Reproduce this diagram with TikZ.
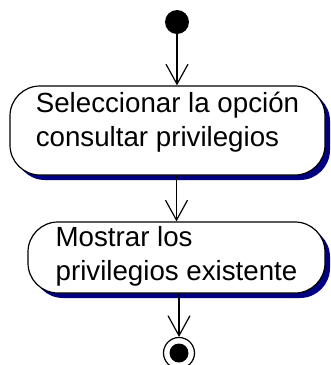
\documentclass[tikz,border=0pt]{standalone}
\usepackage{fontspec}
\setmainfont{Liberation Sans}
\usetikzlibrary{arrows.meta,shadows}
\definecolor{shd}{HTML}{000080}
\tikzset{
  act/.style={draw=black, line width=1.2pt, fill=white, rounded corners=30pt,
    align=left, inner sep=0pt, font=\fontsize{27.7}{34}\selectfont,
    drop shadow={shadow xshift=5pt, shadow yshift=-5pt, fill=shd, opacity=1}},
  ini/.style={circle, fill=black, inner sep=0pt, minimum size=24pt},
  fin/.style={circle, draw=black, line width=1.2pt, inner sep=0pt, minimum size=31pt,
    path picture={\fill[black] (path picture bounding box.center) circle (9.5pt);}},
  flow/.style={-{Straight Barb[length=20pt, width=22pt]}, line width=1.2pt},
}
\begin{document}
\begin{tikzpicture}[x=1pt, y=-1pt]
  \useasboundingbox (0,0) rectangle (331,365);
  \node[ini] (start) at (177,22) {};
  \node[act, minimum width=315pt, text height=60pt, text depth=29pt] (sel) at (167.5,130.5)
    {Seleccionar la opción\\consultar privilegios};
  \node[act, minimum width=297pt, text height=58pt, text depth=13pt] (mos) at (176.5,257.5)
    {Mostrar los\\privilegios existente};
  \node[fin] (end) at (179,353) {};
  \draw[flow] (start) -- (start |- sel.north);
  \draw[flow] (sel.south -| mos.north) -- (mos.north);
  \draw[flow] (end |- mos.south) -- (end);
\end{tikzpicture}
\end{document}
